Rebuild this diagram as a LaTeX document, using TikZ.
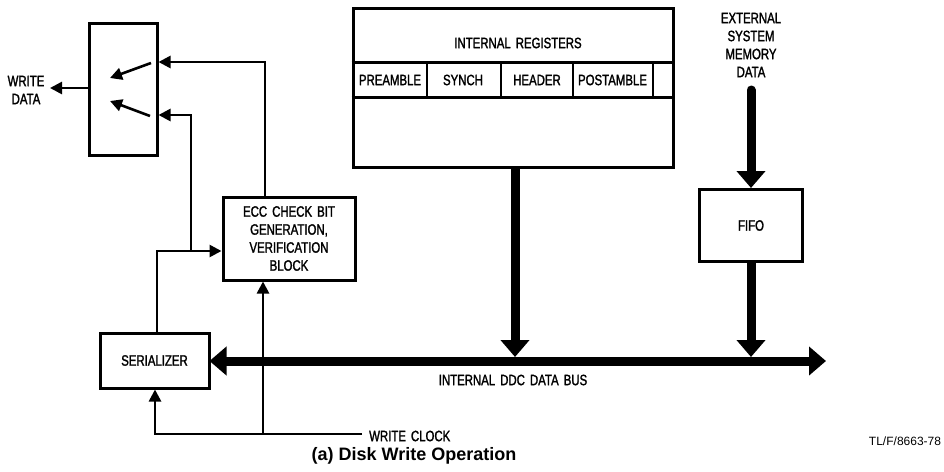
\documentclass[tikz,border=0pt]{standalone}
\usepackage{fontspec}
\setmainfont{Liberation Sans}
\newfontfamily\cond[FakeStretch=0.76,WordSpace=1.6,FakeBold=1.6]{Liberation Sans}
\usetikzlibrary{arrows.meta}
\begin{document}
\begin{tikzpicture}[x=1pt,y=-1pt,
  box/.style={draw, line width=3pt, inner sep=0pt, align=center, font=\cond\fontsize{15}{18}\selectfont},
  lbl/.style={inner sep=0pt, align=center, font=\cond\fontsize{15}{18}\selectfont},
  wire/.style={line width=2.6pt, -{Triangle[length=12pt,width=12pt]}},
  plainwire/.style={line width=2.6pt},
  busarrow/.style={line width=9pt, -{Triangle[length=17pt,width=28pt]}}]
\useasboundingbox (0,0) rectangle (944,471);
% blocks
\node[box, minimum width=68pt, minimum height=132pt] (sw) at (123,89) {};
\node[box, minimum width=132pt, minimum height=83pt] (ecc) at (289,238.5) {ECC CHECK BIT\\GENERATION,\\VERIFICATION\\BLOCK};
\node[box, minimum width=109pt, minimum height=55pt] (ser) at (154.5,360.5) {SERIALIZER};
\node[box, minimum width=103pt, minimum height=72pt] (fifo) at (751,225.5) {FIFO};
\node[box, minimum width=320pt, minimum height=159pt] (reg) at (513,87.5) {};
% register fields
\draw[line width=3pt] (reg.west |- 0,62) -- (reg.east |- 0,62);
\draw[line width=3pt] (reg.west |- 0,97) -- (reg.east |- 0,97);
\foreach \xx in {427,501,573,653} \draw[line width=2.6pt] (\xx,62) -- (\xx,97);
\node[lbl] (regt) at (518,43) {INTERNAL REGISTERS};
\node[lbl] (pre) at (390,80) {PREAMBLE};
\node[lbl] (syn) at (463,80) {SYNCH};
\node[lbl] (hdr) at (537,80) {HEADER};
\node[lbl] (post) at (612.5,80) {POSTAMBLE};
% labels
\node[lbl] (wd) at (26,90) {WRITE\\DATA};
\node[lbl] (ext) at (751,45) {EXTERNAL\\SYSTEM\\MEMORY\\DATA};
\node[lbl] (buslbl) at (513,380) {INTERNAL DDC DATA BUS};
\node[lbl, anchor=west] (wc) at (369,436) {WRITE CLOCK};
\node[inner sep=0pt, font=\bfseries\fontsize{18}{20}\selectfont] (title) at (414,456) {(a) Disk Write Operation};
\node[inner sep=0pt, font=\fontsize{12}{14}\selectfont] (tl) at (905,441) {TL/F/8663-78};
% switch contents
\coordinate (s1a) at (151,63); \coordinate (s1b) at (110,78);
\coordinate (s2a) at (150,116); \coordinate (s2b) at (110,101);
\draw[wire] (s1a) -- (s1b);
\draw[wire] (s2a) -- (s2b);
% write data
\coordinate (wdtip) at (50,88);
\draw[wire] (sw.west |- 0,88) -- (wdtip);
% ECC to switch
\draw[wire] (ecc.north -| 265,0) |- (sw.east |- 0,62);
% serializer to ECC, branch to switch
\draw[wire] (ser.north -| 157,0) |- (ecc.west |- 0,251);
\coordinate (j1) at (191,251);
\draw[wire] (j1) |- (sw.east |- 0,115);
% write clock
\coordinate (wcl) at (362,434);
\coordinate (j2) at (263,434);
\draw[wire] (wcl) -| (ser.south -| 155,0);
\draw[wire] (j2) -- (ecc.south -| 263,0);
% bus
\coordinate (busend) at (826,361);
\draw[line width=9pt, {Triangle[length=17pt,width=28pt]}-{Triangle[length=17pt,width=28pt]}, shorten <=-1pt] (ser.east |- 0,361) -- (busend);
\draw[busarrow] (reg.south -| 515,0) -- (515,357);
\draw[busarrow] (fifo.south) -- (fifo.south |- 0,357);
\coordinate (extstart) at (751,90);
\draw[busarrow, line cap=round] (extstart) -- (fifo.north);
\end{tikzpicture}
\end{document}
